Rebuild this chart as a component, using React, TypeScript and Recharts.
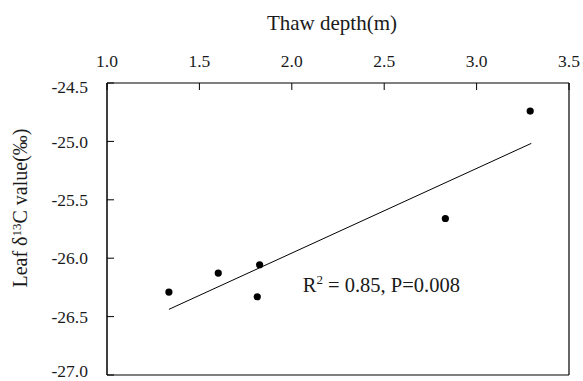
import React from 'react';
import { ScatterChart, Scatter, XAxis, YAxis, ReferenceLine, ReferenceDot, Label } from 'recharts';

const thawDepth = [1.335, 1.602, 1.826, 1.813, 2.831, 3.29];
const leafD13C = [-26.29, -26.127, -26.056, -26.33, -25.66, -24.74];
const fitX = [1.335, 3.296];
const fitY = [-26.438, -25.017];
const xTicks = [1.0, 1.5, 2.0, 2.5, 3.0, 3.5];
const yTicks = [-27.0, -26.5, -26.0, -25.5, -25.0, -24.5];
const annotationX = 2.059;
const annotationY = -26.29;

const points = thawDepth.map((x, i) => ({ x, y: leafD13C[i] }));
const fitLine = fitX.map((x, i) => ({ x, y: fitY[i] }));

const FONT = "'Liberation Serif', 'Times New Roman', serif";
const INK = '#1a1a1a';
const TICK_FONT = 17.5;

const Dot = (props: any) => <circle cx={props.cx} cy={props.cy} r={3.6} fill="#000" />;
const NoShape = () => <g />;

const makeXTick = (v: number) => (props: any) => {
  const vb = props.viewBox;
  return (
    <g>
      <line x1={vb.x} x2={vb.x} y1={vb.y} y2={vb.y + 7} stroke="#000" strokeWidth={1} />
      <text x={vb.x} y={vb.y - 16} textAnchor="middle" fontFamily={FONT} fontSize={TICK_FONT} fill={INK}>
        {v.toFixed(1)}
      </text>
    </g>
  );
};

const makeYTick = (v: number) => (props: any) => {
  const vb = props.viewBox;
  const shift = v === yTicks[0] ? -4 : v === yTicks[yTicks.length - 1] ? 4 : 0;
  return (
    <g>
      <line x1={vb.x} x2={vb.x + 7} y1={vb.y} y2={vb.y} stroke="#000" strokeWidth={1} />
      <text x={vb.x - 19} y={vb.y + shift} dy="0.35em" textAnchor="end" fontFamily={FONT} fontSize={TICK_FONT} fill={INK}>
        {v.toFixed(1)}
      </text>
    </g>
  );
};

const XTitle = (props: any) => {
  const vb = props.viewBox;
  return (
    <text x={vb.x + vb.width / 2 - 6} y={30} textAnchor="middle" fontFamily={FONT} fontSize={21} fill={INK}>
      Thaw depth(m)
    </text>
  );
};

const YTitle = (props: any) => {
  const vb = props.viewBox;
  const cx = vb.x + 27;
  const cy = vb.y + vb.height / 2 - 21;
  return (
    <text x={cx} y={cy} transform={`rotate(-90, ${cx}, ${cy})`} textAnchor="middle" fontFamily={FONT} fontSize={20} fill={INK}>
      Leaf δ
      <tspan fontSize={13} dy={-6}>13</tspan>
      <tspan dy={6}>C value(‰)</tspan>
    </text>
  );
};

const Annotation = (props: any) => {
  const vb = props.viewBox;
  return (
    <text x={vb.x} y={vb.y} textAnchor="start" fontFamily={FONT} fontSize={20.5} fill={INK}>
      R
      <tspan fontSize={13} dy={-8}>2</tspan>
      <tspan dy={8}> = 0.85, P=0.008</tspan>
    </text>
  );
};

export default function App() {
  return (
    <div style={{ position: 'absolute', left: 0, top: 0, background: '#fff' }}>
      <ScatterChart width={583} height={381} margin={{ top: 0, right: 14, bottom: 6, left: 0 }}>
        <XAxis
          type="number"
          dataKey="x"
          orientation="top"
          domain={[1, 3.5]}
          ticks={xTicks}
          height={83}
          axisLine={{ stroke: '#000', strokeWidth: 1.2 }}
          tickLine={false}
          tick={false}
          allowDataOverflow
        >
          <Label content={XTitle} />
        </XAxis>
        <YAxis
          type="number"
          dataKey="y"
          domain={[-27, -24.5]}
          ticks={yTicks}
          width={107}
          axisLine={{ stroke: '#000', strokeWidth: 1.5 }}
          tickLine={false}
          tick={false}
          allowDataOverflow
        >
          <Label content={YTitle} />
        </YAxis>
        <ReferenceLine x={3.5} stroke="#000" strokeWidth={1.2} />
        <ReferenceLine y={-27} stroke="#000" strokeWidth={1.2} />
        {xTicks.map((v) => (
          <ReferenceLine key={`xt${v}`} x={v} stroke="none" label={makeXTick(v)} />
        ))}
        {yTicks.map((v) => (
          <ReferenceLine key={`yt${v}`} y={v} stroke="none" label={makeYTick(v)} />
        ))}
        <Scatter data={fitLine} line={{ stroke: '#000', strokeWidth: 1 }} shape={NoShape} isAnimationActive={false} />
        <Scatter data={points} shape={Dot} isAnimationActive={false} />
        <ReferenceDot x={annotationX} y={annotationY} r={0} stroke="none" fill="none" label={Annotation} />
      </ScatterChart>
    </div>
  );
}
